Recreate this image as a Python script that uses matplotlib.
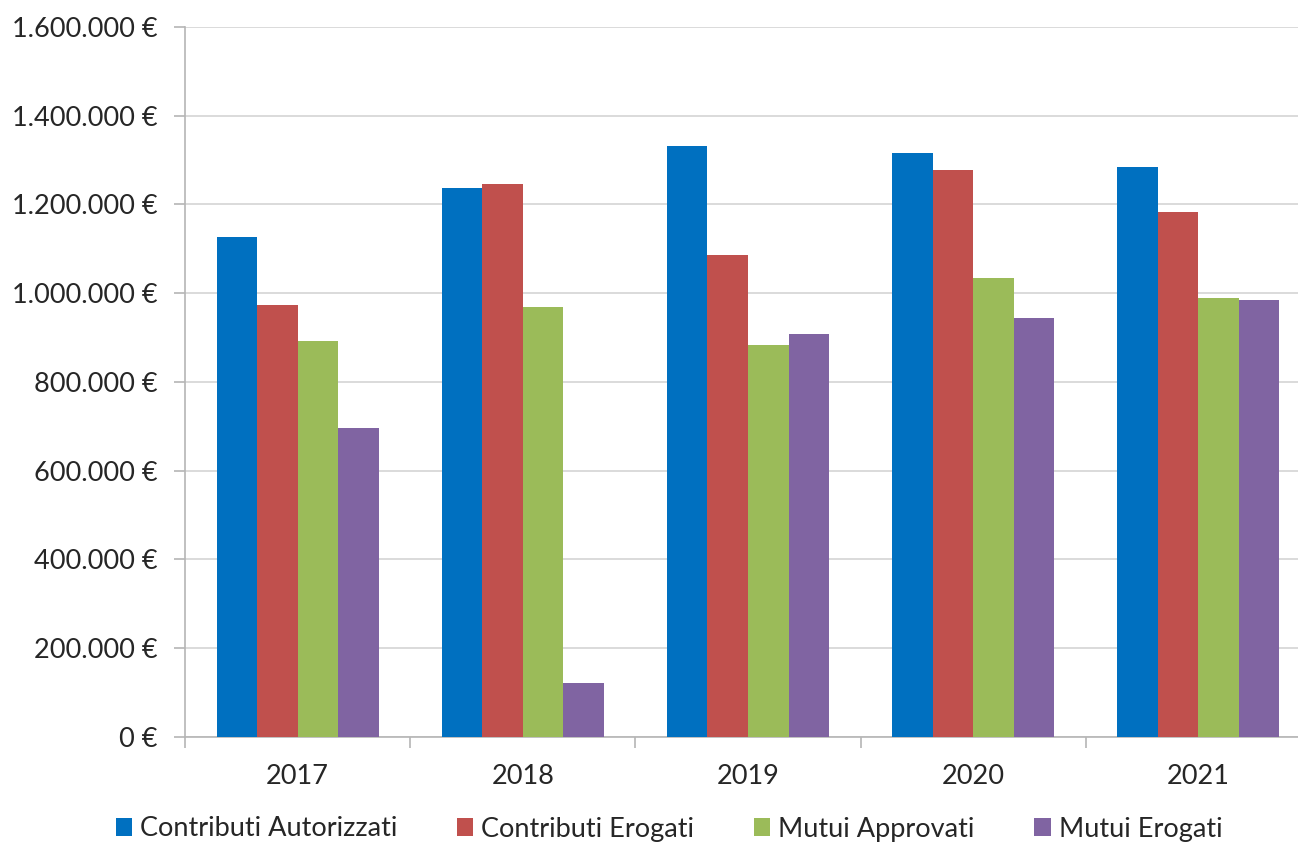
import numpy as np
import matplotlib.pyplot as plt
from matplotlib.ticker import FuncFormatter, MultipleLocator

years = ['2017', '2018', '2019', '2020', '2021']
series = ['Contributi Autorizzati', 'Contributi Erogati', 'Mutui Approvati', 'Mutui Erogati']
contributi_autorizzati = [1127000, 1237000, 1332000, 1315000, 1285000]
contributi_erogati = [974000, 1247000, 1086000, 1277000, 1182000]
mutui_approvati = [891000, 969000, 884000, 1034000, 988000]
mutui_erogati = [695000, 120000, 909000, 944000, 985000]
colors = ['#0070C0', '#C0504D', '#9BBB59', '#8064A2']

plt.rcParams['font.family'] = ['Lato', 'DejaVu Sans']
fs = 19.5

fig = plt.figure(figsize=(12.98, 8.43), dpi=100)
ax = fig.add_axes([185/1298, 1 - 736.7/843, 1 - 185/1298, (736.7 - 27)/843])

x = np.arange(len(years))
w = 0.18
data = [contributi_autorizzati, contributi_erogati, mutui_approvati, mutui_erogati]
for i, (vals, name, c) in enumerate(zip(data, series, colors)):
    ax.bar(x + (i - 1.5)*w, vals, width=w, color=c, label=name, zorder=3)

ax.yaxis.set_major_locator(MultipleLocator(200000))
ax.yaxis.set_major_formatter(FuncFormatter(lambda v, p: '{:,.0f} €'.format(v).replace(',', '.')))
ax.grid(axis='y', color='#d4d4d4', lw=1.2, zorder=0)

ax.set_xticks(x)
ax.set_xticklabels(years)
ax.set_xticks(np.arange(-0.5, 5, 1), minor=True)
# limits after the ticks, so the last category is clipped at the right edge
ax.set_ylim(0, 1600000)
ax.set_xlim(-0.5, 4.5 - 13/225)
ax.tick_params(axis='x', which='major', length=0, pad=20, labelsize=fs, labelcolor='#262626')
ax.tick_params(axis='x', which='minor', length=8, color='#b5b5b5', width=1.2)
ax.tick_params(axis='y', length=8, color='#b5b5b5', width=1.2, pad=12, labelsize=fs, labelcolor='#262626')

for s in ['top', 'right']:
    ax.spines[s].set_visible(False)
for s in ['left', 'bottom']:
    ax.spines[s].set_color('#b5b5b5')
    ax.spines[s].set_linewidth(1.2)

fig.legend(loc='center', bbox_to_anchor=(669/1298, 1 - 829/843), ncol=4, frameon=False,
           fontsize=fs, handlelength=0.6, handleheight=0.6, handletextpad=0.3,
           columnspacing=2.2, labelcolor='#262626')

fig.savefig('out.png', dpi=100)
